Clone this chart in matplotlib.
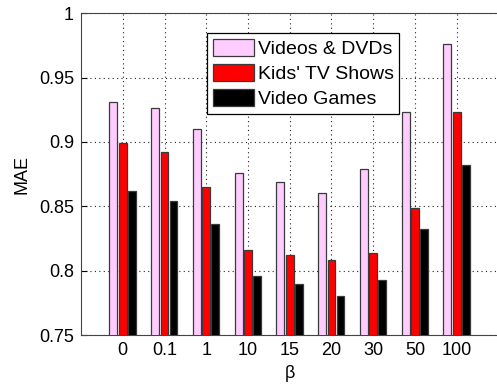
import numpy as np
import matplotlib.pyplot as plt

plt.rcParams['font.family'] = ['Liberation Sans', 'DejaVu Sans']

# MAE for each beta setting, one list per category
betas = ['0', '0.1', '1', '10', '15', '20', '30', '50', '100']
videos_dvds = [0.931, 0.926, 0.910, 0.876, 0.869, 0.860, 0.879, 0.923, 0.976]
kids_tv = [0.899, 0.892, 0.865, 0.816, 0.812, 0.808, 0.814, 0.849, 0.923]
video_games = [0.862, 0.854, 0.836, 0.796, 0.790, 0.780, 0.793, 0.832, 0.882]

series = [('Videos & DVDs', videos_dvds, '#ffccff'),
          ("Kids' TV Shows", kids_tv, '#ff0000'),
          ('Video Games', video_games, '#000000')]

fig = plt.figure(figsize=(4.97, 3.84), dpi=100)
ax = fig.add_axes([0.163, 0.1276, 0.84, 0.838])

x = np.arange(1, len(betas) + 1)
offsets = [-0.225, 0.0, 0.215]
w = 0.19
for (name, vals, col), off in zip(series, offsets):
    ax.bar(x + off, vals, w, color=col, edgecolor='#3a3a3a', linewidth=0.9,
           label=name, zorder=3)

ax.set_xlim(0, 10)
ax.set_ylim(0.75, 1.0)
ax.set_xticks(x)
ax.set_xticklabels(betas)
ax.set_yticks([0.75, 0.8, 0.85, 0.9, 0.95, 1.0])
ax.set_yticklabels(['0.75', '0.8', '0.85', '0.9', '0.95', '1'])
ax.tick_params(direction='in', length=4, labelsize=13, pad=5)
ax.grid(True, linestyle=(0, (1, 3)), color='#222222', linewidth=0.8, zorder=0)
ax.set_axisbelow(True)
for s in ax.spines.values():
    s.set_color('#444444')

ax.set_xlabel('β', fontsize=13, labelpad=4)
ax.set_ylabel('MAE', fontsize=13, labelpad=6)

leg = ax.legend(loc='upper left', bbox_to_anchor=(0.302, 0.937), fontsize=14,
                frameon=True, fancybox=False, framealpha=1, edgecolor='black',
                handlelength=2.1, handleheight=0.95, handletextpad=0.2,
                labelspacing=0.3, borderpad=0.3, borderaxespad=0)
leg.get_frame().set_linewidth(0.9)

fig.savefig('out.png', dpi=100)
